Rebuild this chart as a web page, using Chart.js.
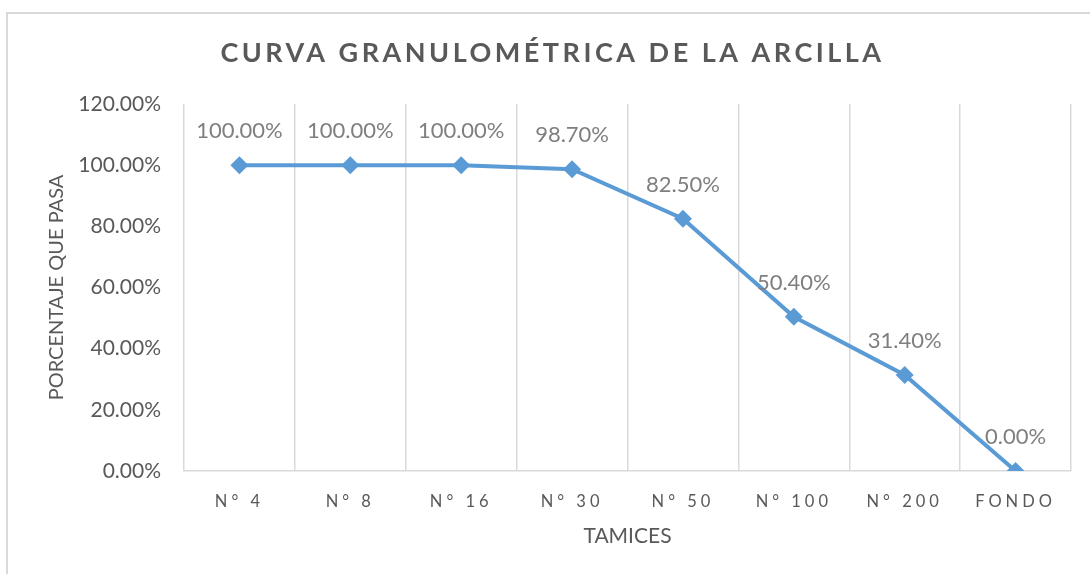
<!DOCTYPE html>
<html>
<head>
<meta charset="utf-8">
<script src="https://cdn.jsdelivr.net/npm/chart.js@4"></script>
<style>
  html, body { margin: 0; padding: 0; background: #ffffff; }
  #wrap { position: relative; width: 1091px; height: 574px; }
  canvas { display: block; }
</style>
</head>
<body>
<div id="wrap"><canvas id="c" width="1091" height="574"></canvas></div>
<script>
const categories = ["N° 4", "N° 8", "N° 16", "N° 30", "N° 50", "N° 100", "N° 200", "FONDO"];
const porcentajeQuePasa = [100.0, 100.0, 100.0, 98.7, 82.5, 50.4, 31.4, 0.0];
const yTickMax = 120;
const yTickStep = 20;
const chartTitle = "CURVA GRANULOMÉTRICA DE LA ARCILLA";
const yTitle = "PORCENTAJE QUE PASA";
const xTitle = "TAMICES";

const FONT = "Lato, 'Open Sans', sans-serif";
const GRAY = "#595959";
const GRID = "#d9d9d9";
const BLUE = "#5b9bd5";

const borderPlugin = {
  id: 'outerBorder',
  beforeDraw(chart) {
    const ctx = chart.ctx;
    ctx.save();
    ctx.strokeStyle = GRID;
    ctx.lineWidth = 2;
    ctx.beginPath();
    ctx.moveTo(7, 600);
    ctx.lineTo(7, 13);
    ctx.lineTo(1090, 13);
    ctx.stroke();
    ctx.restore();
    if (!chart.$patched) {
      chart.$patched = true;
      const xs = chart.scales.x;
      const origLabels = xs.drawLabels.bind(xs);
      xs.drawLabels = function (area) {
        chart.ctx.save();
        chart.ctx.letterSpacing = '4px';
        origLabels(area);
        chart.ctx.restore();
      };
      const tb = chart.titleBlock;
      if (tb) {
        const origTitle = tb.draw.bind(tb);
        tb.draw = function () {
          chart.ctx.save();
          chart.ctx.translate(17, 0);
          chart.ctx.letterSpacing = '3.5px';
          origTitle();
          chart.ctx.restore();
        };
      }
    }
  }
};

const valueLabelPlugin = {
  id: 'valueLabels',
  afterDatasetsDraw(chart) {
    const ctx = chart.ctx;
    const meta = chart.getDatasetMeta(0);
    const data = chart.data.datasets[0].data;
    ctx.save();
    ctx.font = "22px " + FONT;
    ctx.fillStyle = "#7f7f7f";
    ctx.textAlign = "center";
    ctx.textBaseline = "middle";
    meta.data.forEach((pt, i) => {
      ctx.fillText(data[i].toFixed(2) + "%", pt.x, pt.y - 34);
    });
    ctx.restore();
  }
};

new Chart(document.getElementById('c'), {
  type: 'line',
  data: {
    labels: categories,
    datasets: [{
      data: porcentajeQuePasa,
      borderColor: BLUE,
      backgroundColor: BLUE,
      borderWidth: 4,
      tension: 0,
      pointStyle: 'rectRot',
      pointRadius: 9,
      pointHoverRadius: 9,
      pointBackgroundColor: BLUE,
      pointBorderColor: BLUE,
      pointBorderWidth: 0,
      fill: false
    }]
  },
  options: {
    responsive: false,
    animation: false,
    devicePixelRatio: 1,
    layout: { padding: { left: 0, right: 20, top: 0, bottom: 0 } },
    plugins: {
      legend: { display: false },
      tooltip: { enabled: false },
      title: {
        display: true,
        text: chartTitle,
        color: GRAY,
        font: { family: FONT, size: 27, weight: 'bold', lineHeight: 1.2 },
        padding: { top: 37, bottom: 34.6 }
      }
    },
    scales: {
      x: {
        offset: true,
        grid: { display: true, offset: true, color: GRID, lineWidth: 1.5, drawTicks: false },
        border: { display: true, color: GRID, width: 1.5 },
        ticks: { color: GRAY, font: { family: FONT, size: 16.5 }, padding: 21, maxRotation: 0, autoSkip: false },
        title: { display: true, text: xTitle, color: GRAY, font: { family: FONT, size: 21 }, padding: { top: 0, bottom: 25 } },
        afterFit(s) { s.height = 574 - 471; }
      },
      y: {
        min: 0,
        max: yTickMax,
        grid: { display: false, drawTicks: false },
        border: { display: false },
        ticks: {
          stepSize: yTickStep,
          color: GRAY,
          font: { family: FONT, size: 21 },
          padding: 23,
          callback: v => v.toFixed(2) + "%"
        },
        title: { display: true, text: yTitle, color: GRAY, font: { family: FONT, size: 20 }, padding: { top: 45, bottom: 0 } },
        afterFit(s) { s.width = 184; }
      }
    }
  },
  plugins: [borderPlugin, valueLabelPlugin]
});
</script>
</body>
</html>
